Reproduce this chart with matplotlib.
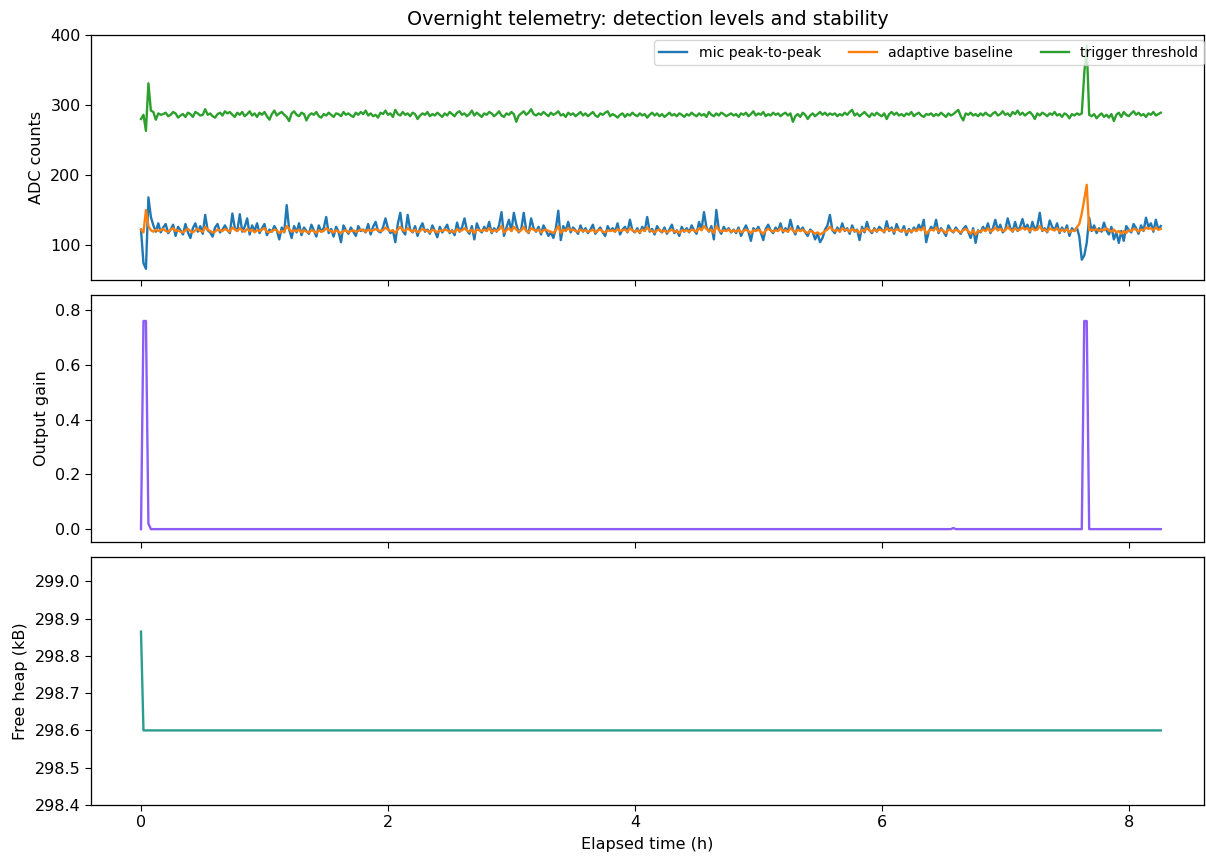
import numpy as np
import matplotlib
matplotlib.use("Agg")
import matplotlib.pyplot as plt

SAMPLE_H = 0.02  # hours between samples

mic_p2p = [
    122, 74, 66, 168, 140, 128, 119, 131, 118, 125, 130, 117, 122, 129, 113, 126, 121, 115, 130, 118,
    110, 124, 131, 119, 127, 116, 143, 121, 118, 112, 125, 130, 118, 122, 128, 121, 117, 145, 124, 120,
    144, 119, 126, 138, 115, 128, 120, 131, 117, 124, 130, 114, 122, 119, 127, 121, 108, 125, 118, 157,
    122, 110, 127, 118, 131, 114, 125, 120, 116, 129, 121, 112, 128, 119, 124, 140, 117, 123, 112, 126,
    119, 104, 128, 121, 116, 125, 119, 113, 127, 120, 122, 118, 130, 115, 126, 133, 120, 118, 125, 138,
    124, 117, 121, 104, 130, 146, 120, 115, 143, 122, 118, 127, 113, 124, 131, 119, 122, 116, 128, 120,
    111, 126, 118, 123, 129, 117, 121, 114, 132, 119, 125, 138, 121, 116, 127, 108, 131, 122, 118, 126,
    120, 133, 117, 124, 119, 128, 147, 113, 125, 136, 120, 146, 129, 118, 123, 146, 121, 117, 138, 124,
    119, 126, 115, 128, 121, 113, 118, 110, 124, 149, 107, 127, 120, 133, 118, 125, 121, 116, 128, 119,
    124, 117, 122, 129, 116, 121, 125, 118, 113, 127, 120, 124, 119, 131, 115, 122, 126, 118, 136, 121,
    118, 124, 117, 126, 120, 140, 119, 123, 115, 127, 121, 118, 125, 116, 122, 129, 117, 121, 113, 126,
    119, 124, 118, 128, 121, 116, 133, 122, 147, 125, 119, 127, 108, 150, 122, 116, 126, 120, 124, 118,
    122, 117, 125, 113, 121, 128, 119, 106, 124, 120, 126, 118, 107, 123, 129, 121, 117, 125, 120, 131,
    118, 124, 119, 136, 122, 115, 127, 120, 125, 118, 113, 122, 119, 108, 116, 104, 110, 122, 128, 143,
    121, 117, 125, 119, 131, 120, 124, 116, 128, 119, 122, 107, 126, 118, 133, 121, 117, 124, 119, 126,
    122, 118, 134, 120, 125, 116, 130, 121, 119, 127, 114, 123, 118, 125, 120, 129, 122, 136, 104, 119,
    126, 121, 136, 117, 124, 119, 113, 128, 121, 118, 125, 120, 116, 123, 127, 119, 110, 124, 103, 121,
    118, 126, 120, 131, 117, 124, 136, 121, 129, 118, 122, 138, 125, 119, 133, 120, 126, 137, 123, 129,
    118, 133, 122, 127, 146, 120, 124, 118, 135, 126, 121, 131, 117, 125, 119, 128, 113, 124, 120, 125,
    112, 79, 85, 103, 139, 120, 128, 117, 124, 119, 132, 121, 115, 126, 108, 118, 103, 120, 106, 127,
    122, 118, 130, 124, 116, 128, 120, 139, 126, 131, 119, 136, 122, 127,
]

adaptive_baseline = [
    122, 118, 150, 127, 121, 119, 122, 120, 121, 123, 120, 119, 122, 124, 120, 121, 119, 118, 121, 123,
    120, 118, 121, 123, 120, 119, 126, 122, 120, 118, 119, 122, 121, 120, 123, 121, 119, 125, 122, 120,
    124, 121, 119, 123, 120, 122, 118, 121, 120, 122, 124, 119, 118, 120, 122, 121, 117, 120, 119, 127,
    123, 119, 121, 120, 122, 118, 121, 119, 118, 121, 120, 117, 121, 119, 120, 124, 121, 120, 118, 121,
    119, 117, 120, 121, 118, 120, 121, 119, 120, 122, 121, 119, 122, 120, 121, 123, 121, 120, 121, 125,
    122, 120, 121, 117, 122, 126, 121, 120, 124, 121, 119, 122, 118, 120, 123, 121, 120, 118, 122, 120,
    118, 121, 120, 122, 121, 119, 120, 118, 123, 120, 121, 124, 121, 119, 122, 117, 122, 121, 120, 122,
    120, 124, 119, 121, 120, 122, 127, 118, 121, 124, 120, 126, 122, 119, 121, 126, 120, 118, 124, 122,
    120, 122, 118, 121, 122, 120, 119, 117, 121, 127, 117, 122, 120, 124, 121, 122, 120, 119, 122, 120,
    121, 119, 120, 122, 118, 121, 122, 119, 118, 121, 120, 121, 119, 123, 120, 121, 122, 119, 124, 121,
    119, 121, 118, 122, 120, 125, 121, 120, 118, 121, 122, 119, 121, 118, 120, 122, 119, 120, 117, 121,
    120, 121, 119, 122, 121, 119, 124, 121, 127, 123, 120, 122, 117, 127, 122, 119, 121, 120, 122, 119,
    121, 119, 122, 118, 120, 122, 120, 117, 121, 120, 122, 119, 116, 121, 123, 121, 119, 121, 120, 124,
    120, 121, 119, 124, 121, 118, 122, 120, 122, 119, 117, 120, 119, 116, 118, 115, 117, 120, 122, 126,
    122, 120, 122, 119, 124, 121, 122, 119, 123, 120, 121, 117, 122, 120, 124, 121, 119, 122, 120, 122,
    121, 119, 124, 121, 122, 119, 123, 121, 120, 122, 118, 121, 119, 122, 120, 123, 121, 125, 116, 120,
    122, 121, 125, 119, 122, 120, 117, 122, 121, 119, 122, 120, 118, 121, 123, 120, 116, 121, 115, 120,
    119, 122, 120, 124, 119, 121, 125, 121, 123, 120, 121, 126, 122, 120, 124, 121, 122, 125, 122, 124,
    120, 124, 121, 122, 127, 121, 122, 119, 124, 122, 121, 124, 119, 122, 120, 123, 118, 121, 120, 125,
    130, 145, 165, 186, 121, 122, 121, 123, 120, 122, 121, 124, 121, 119, 122, 118, 120, 116, 120, 117,
    121, 120, 123, 122, 119, 122, 121, 125, 123, 124, 121, 125, 122, 123,
]

trigger_threshold = [
    280, 286, 263, 331, 292, 290, 279, 288, 286, 287, 289, 284, 286, 290, 288, 282, 285, 287, 283, 289,
    287, 283, 290, 288, 285, 286, 294, 286, 288, 284, 282, 287, 289, 285, 291, 288, 290, 286, 283, 289,
    286, 290, 284, 287, 291, 285, 288, 283, 289, 286, 290, 284, 279, 287, 292, 285, 288, 290, 286, 283,
    277, 288, 291, 286, 284, 289, 287, 278, 285, 288, 286, 290, 284, 282, 287, 285, 289, 286, 283, 288,
    287, 284, 290, 286, 288, 285, 283, 289, 286, 290, 287, 292, 285, 288, 284, 286, 282, 289, 287, 292,
    286, 288, 283, 293, 287, 285, 290, 286, 288, 284, 289, 287, 280, 285, 288, 286, 290, 284, 287, 285,
    289, 286, 283, 288, 285, 290, 287, 284, 289, 291, 286, 288, 284, 287, 292, 285, 289, 286, 283, 288,
    286, 290, 288, 284, 287, 291, 285, 283, 288, 286, 290, 287, 276, 285, 288, 291, 286, 289, 294, 287,
    285, 288, 286, 290, 287, 284, 289, 286, 288, 291, 285, 287, 283, 289, 286, 288, 284, 287, 290, 285,
    288, 284, 287, 290, 285, 283, 288, 286, 289, 291, 284, 287, 285, 282, 286, 288, 283, 287, 285, 289,
    286, 284, 288, 285, 287, 282, 286, 289, 285, 288, 284, 287, 283, 286, 289, 285, 287, 284, 288, 286,
    283, 287, 285, 289, 286, 284, 288, 285, 287, 283, 290, 286, 284, 288, 285, 289, 287, 284, 286, 288,
    285, 287, 283, 288, 286, 289, 284, 287, 291, 285, 288, 286, 290, 284, 287, 285, 289, 286, 288, 284,
    287, 289, 285, 288, 276, 284, 287, 283, 289, 286, 280, 285, 288, 284, 287, 290, 286, 289, 285, 288,
    286, 288, 284, 287, 285, 289, 286, 290, 293, 285, 288, 284, 287, 290, 286, 283, 288, 285, 289, 286,
    284, 288, 280, 287, 290, 286, 289, 285, 287, 284, 288, 286, 290, 284, 287, 289, 285, 283, 287, 286,
    288, 284, 287, 285, 289, 286, 283, 288, 285, 287, 290, 293, 284, 278, 288, 286, 289, 285, 287, 284,
    288, 285, 289, 286, 284, 288, 290, 285, 287, 291, 286, 288, 284, 290, 287, 292, 286, 289, 285, 288,
    290, 286, 280, 288, 285, 289, 287, 284, 288, 286, 290, 285, 287, 283, 288, 286, 281, 287, 285, 288,
    286, 288, 345, 385, 286, 284, 287, 281, 285, 288, 283, 286, 282, 287, 277, 286, 289, 283, 290, 286,
    284, 288, 291, 286, 289, 285, 287, 283, 288, 286, 290, 285, 287, 289,
]

output_gain = ([0.0, 0.76, 0.76, 0.02] + [0.0] * 325 + [0.004] + [0.0] * 52
               + [0.76, 0.76] + [0.0] * 30)

free_heap_kb = [298.865] + [298.6] * 413

series_labels = ["mic peak-to-peak", "adaptive baseline", "trigger threshold"]
adc_ticks = [100, 200, 300, 400]

n = len(mic_p2p)
elapsed_h = np.arange(n) * SAMPLE_H

TICK_FS = 11.5
LEGEND_FS = 10.1
LABEL_FS = 11.5
TITLE_FS = 13.8
LW = 1.7

plt.rcParams["xtick.labelsize"] = TICK_FS
plt.rcParams["ytick.labelsize"] = TICK_FS
plt.rcParams["xtick.major.size"] = 4
plt.rcParams["ytick.major.size"] = 4
plt.rcParams["axes.linewidth"] = 0.92

fig = plt.figure(figsize=(12.06, 8.56), dpi=100)
W, H = 1206, 856
left = 91 / W
width = 1113 / W
ax1 = fig.add_axes([left, 1 - 280 / H, width, 245 / H])
ax2 = fig.add_axes([left, 1 - 542 / H, width, 247 / H], sharex=ax1)
ax3 = fig.add_axes([left, 1 - 805 / H, width, 248 / H], sharex=ax1)

ax1.plot(elapsed_h, mic_p2p, color="C0", lw=LW, label=series_labels[0])
ax1.plot(elapsed_h, adaptive_baseline, color="C1", lw=LW, label=series_labels[1])
ax1.plot(elapsed_h, trigger_threshold, color="C2", lw=LW, label=series_labels[2])
ax1.set_ylim(50, 400)
ax1.set_yticks(adc_ticks)
ax1.set_ylabel("ADC counts", fontsize=LABEL_FS, labelpad=4.6)
ax1.set_title("Overnight telemetry: detection levels and stability", fontsize=TITLE_FS, pad=6.9)
ax1.legend(loc="upper right", ncol=3, fontsize=LEGEND_FS,
           bbox_to_anchor=(1.0, 1 - 5 / 245), borderaxespad=0.0)

ax2.plot(elapsed_h, output_gain, color="#8b5cf6", lw=LW)
ax2.set_ylim(-0.047, 0.855)
ax2.set_ylabel("Output gain", fontsize=LABEL_FS, labelpad=4.6)

ax3.plot(elapsed_h, free_heap_kb, color="#2a9d8f", lw=LW)
ax3.set_ylim(min(free_heap_kb) - 0.2, max(free_heap_kb) + 0.2)
ax3.set_ylabel("Free heap (kB)", fontsize=LABEL_FS, labelpad=4.6)
ax3.set_xlabel("Elapsed time (h)", fontsize=LABEL_FS, labelpad=4.6)

ax1.set_xlim(-0.405, 8.61)
ax1.set_xticks([0, 2, 4, 6, 8])
plt.setp(ax1.get_xticklabels(), visible=False)
plt.setp(ax2.get_xticklabels(), visible=False)

fig.savefig("out.png", dpi=100)
